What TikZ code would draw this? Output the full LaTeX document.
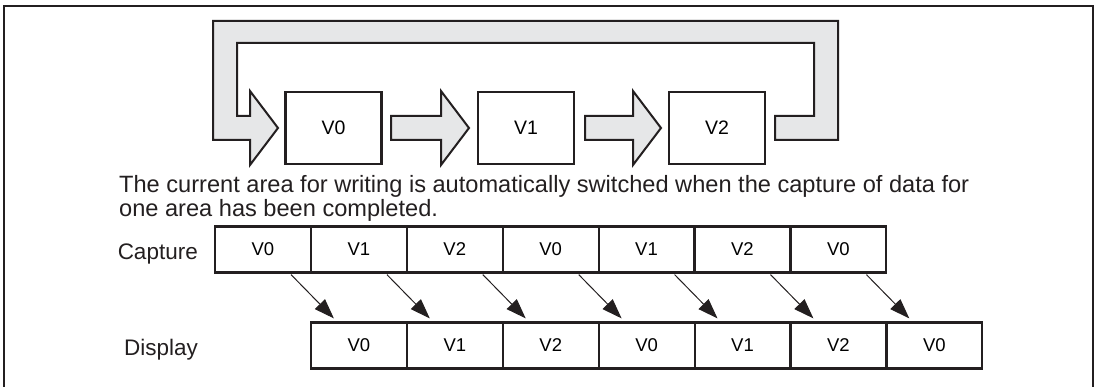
\documentclass[tikz,border=0pt]{standalone}
\usepackage{fontspec}
\setmainfont{Liberation Sans}
\usetikzlibrary{arrows.meta,calc}
\definecolor{arrowgray}{RGB}{230,231,232}
\definecolor{ink}{RGB}{35,31,32}
\begin{document}
\begin{tikzpicture}[x=1pt,y=-1pt,
  box/.style={draw=ink,line width=2.2pt,minimum width=96pt,minimum height=72pt,inner sep=0pt,font=\fontsize{19.5}{21}\selectfont},
  cell/.style={draw=ink,line width=2.2pt,minimum width=95.9pt,minimum height=46pt,inner sep=0pt,font=\fontsize{18.5}{20}\selectfont},
  blockarrow/.style={draw=ink,fill=arrowgray,line width=2pt,line join=miter},
  lbl/.style={font=\fontsize{22.5}{24}\selectfont,inner sep=0pt,text=ink},
  note/.style={font=\fontsize{23.6}{26}\selectfont,inner sep=0pt,text=ink},
  conn/.style={draw=ink,line width=1pt,-{Triangle[length=20pt,width=14pt]}}]
\useasboundingbox (0,0) rectangle (1100,387);
% frame
\draw[ink,line width=2.5pt] (4,395) -- (4,6) -- (1093,6) -- (1093,395);
% top boxes
\node[box] (v0) at (333.5,128) {V0};
\node[box] (v1) at (526,128) {V1};
\node[box] (v2) at (717,128) {V2};
% loop arrow
\draw[blockarrow] (775,116) -- (814,116) -- (814,43) -- (237,43) -- (237,116) -- (250,116)
  -- (250,91) -- (278,128) -- (250,165) -- (250,140) -- (213,140) -- (213,21)
  -- (838,21) -- (838,140) -- (775,140) -- cycle;
% block arrows
\draw[blockarrow] (391,116) -- (441,116) -- (441,91) -- (469,128) -- (441,165) -- (441,140) -- (391,140) -- cycle;
\draw[blockarrow] (585,116) -- (633,116) -- (633,91) -- (661,128) -- (633,165) -- (633,140) -- (585,140) -- cycle;
% text
\node[note,anchor=base west] (t1) at (119,193) {The current area for writing is automatically switched when the capture of data for};
\node[note,anchor=base west] (t2) at (119,217) {one area has been completed.};
\node[lbl,anchor=base east] (cap) at (198,260) {Capture};
\node[lbl,anchor=base east] (disp) at (198,355) {Display};
% rows
\foreach \i/\t in {1/V0,2/V1,3/V2,4/V0,5/V1,6/V2,7/V0} {
  \node[cell] (c\i) at ({215+95.9*(\i-0.5)},249.5) {\t};
  \node[cell] (d\i) at ({311+95.9*(\i-0.5)},345.5) {\t};
}
\foreach \i in {1,...,7}
  \draw[conn] ($(c\i.south east)+(-21,1)$) -- ($(d\i.north west)+(24,-3)$);
\end{tikzpicture}
\end{document}
